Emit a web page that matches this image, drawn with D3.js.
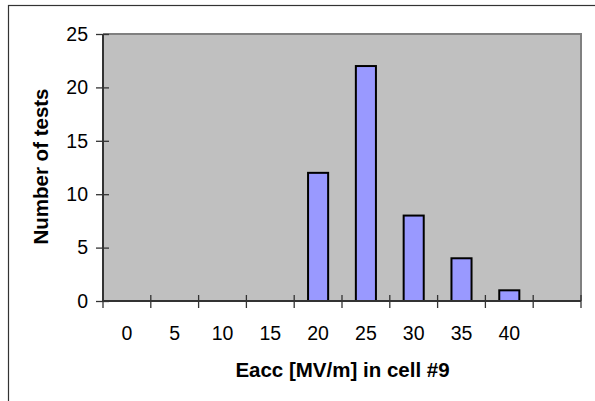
<!DOCTYPE html>
<html>
<head>
<meta charset="utf-8">
<script src="https://cdn.jsdelivr.net/npm/d3@7"></script>
<style>
  html, body { margin: 0; padding: 0; background: #fff; }
  svg { display: block; }
  text { font-family: Arial, "Liberation Sans", sans-serif; fill: #000; }
</style>
</head>
<body>
<svg id="chart" width="595" height="401"></svg>
<script>
// Histogram bins (lower edge of each Eacc bin, MV/m); last bin is unlabeled
const binLabels = ["0", "5", "10", "15", "20", "25", "30", "35", "40", ""];
const testCounts = [0, 0, 0, 0, 12, 22, 8, 4, 1, 0];
const yTicks = [0, 5, 10, 15, 20, 25];

const svg = d3.select("#chart");
const plot = { left: 103, right: 581, top: 34, bottom: 301 };

// Outer chart frame
svg.append("rect")
  .attr("x", 8.5).attr("y", 5.5)
  .attr("width", 700).attr("height", 500)
  .attr("fill", "#fff").attr("stroke", "#333").attr("stroke-width", 1.2);

const bins = binLabels.map((label, i) => ({ key: i, label, value: testCounts[i] }));

const x = d3.scaleBand()
  .domain(bins.map(d => d.key))
  .range([plot.left, plot.right])
  .paddingInner(0.58).paddingOuter(0.29);

const xCat = d3.scaleBand()
  .domain(bins.map(d => d.key))
  .range([plot.left, plot.right]);

const y = d3.scaleLinear().domain([0, 25]).range([plot.bottom, plot.top]);

// Plot area background
svg.append("rect")
  .attr("x", plot.left).attr("y", plot.top)
  .attr("width", plot.right - plot.left).attr("height", plot.bottom - plot.top)
  .attr("fill", "#c0c0c0");

// Plot area border (top and right)
svg.append("path")
  .attr("d", `M${plot.left},${plot.top}H${plot.right}V${plot.bottom}`)
  .attr("fill", "none").attr("stroke", "#808080").attr("stroke-width", 2);

// Bars
svg.append("g").selectAll("rect")
  .data(bins.filter(d => d.value > 0))
  .join("rect")
  .attr("x", d => x(d.key))
  .attr("y", d => y(d.value))
  .attr("width", x.bandwidth())
  .attr("height", d => y(0) - y(d.value))
  .attr("fill", "#9999ff")
  .attr("stroke", "#000")
  .attr("stroke-width", 2);

// Y axis
const yAxis = svg.append("g")
  .attr("transform", `translate(${plot.left},0)`)
  .call(d3.axisLeft(y).tickValues(yTicks).tickSize(7).tickPadding(8).tickFormat(d3.format("d")));
yAxis.select(".domain").remove();
yAxis.selectAll(".tick line").attr("x2", -7).attr("x1", 6).attr("stroke", "#333").attr("stroke-width", 1.3);
yAxis.selectAll(".tick text").attr("font-size", 19.5).attr("font-family", "Arial, 'Liberation Sans', sans-serif").attr("x", -15);

// X axis: ticks on category boundaries, labels centered in each bin
const boundaries = d3.range(bins.length + 1).map(i => plot.left + i * xCat.step());
const xg = svg.append("g");
xg.selectAll("line")
  .data(boundaries)
  .join("line")
  .attr("x1", d => d).attr("x2", d => d)
  .attr("y1", plot.bottom - 6).attr("y2", plot.bottom + 7)
  .attr("stroke", "#333").attr("stroke-width", 1.3);
xg.selectAll("text")
  .data(bins)
  .join("text")
  .attr("x", d => xCat(d.key) + xCat.bandwidth() / 2)
  .attr("y", 340)
  .attr("text-anchor", "middle")
  .attr("font-size", 19.5)
  .text(d => d.label);

// Axis lines
svg.append("path")
  .attr("d", `M${plot.left},${plot.top}V${plot.bottom}H${plot.right}`)
  .attr("fill", "none").attr("stroke", "#333").attr("stroke-width", 2);

// Axis titles
svg.append("text")
  .attr("x", 342.5)
  .attr("y", 377)
  .attr("text-anchor", "middle")
  .attr("font-size", 20.5)
  .attr("font-weight", "bold")
  .text("Eacc [MV/m] in cell #9");

svg.append("text")
  .attr("transform", `translate(48,166.5) rotate(-90)`)
  .attr("text-anchor", "middle")
  .attr("font-size", 20.5)
  .attr("font-weight", "bold")
  .text("Number of tests");
</script>
</body>
</html>
